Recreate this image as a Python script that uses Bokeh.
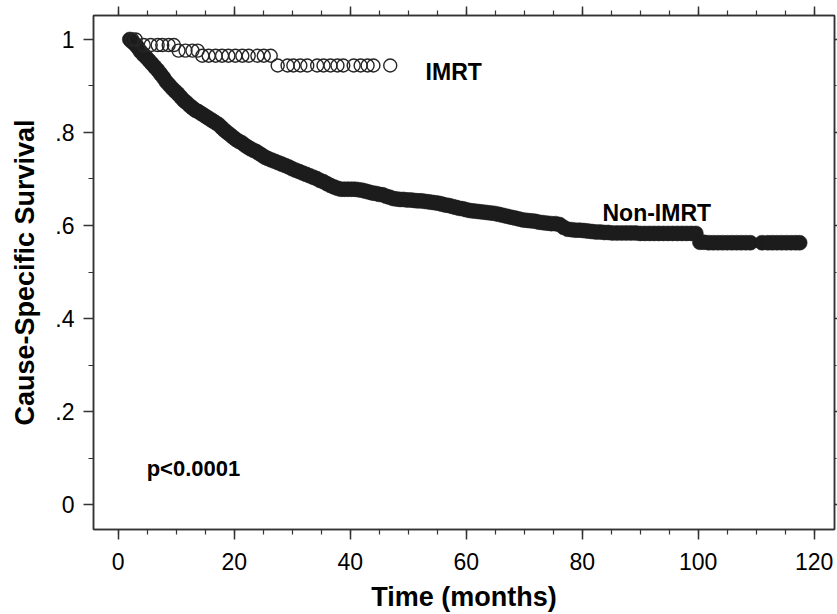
from bokeh.plotting import figure
from bokeh.models import LinearAxis, FixedTicker, Range1d, ColumnDataSource
from bokeh.core.properties import value
from bokeh.embed import file_html
from bokeh.resources import INLINE

# ---- data ----
imrt_time = [2.4, 3.0, 4.4, 5.6, 6.8, 7.6, 8.7, 9.6,
             10.4, 11.6, 12.8, 13.7,
             14.5, 15.6, 16.8, 17.9, 19.0, 20.2, 21.4, 22.5, 24.0, 25.1, 26.3,
             27.5, 29.2, 30.2, 31.4, 32.6, 34.3, 35.4, 36.6, 37.8, 38.8, 40.6,
             41.8, 43.0, 44.0, 46.9]
imrt_surv = [1.0, 1.0, 0.988, 0.988, 0.988, 0.988, 0.988, 0.988,
             0.976, 0.976, 0.976, 0.976,
             0.965, 0.965, 0.965, 0.965, 0.965, 0.965, 0.965, 0.965, 0.965, 0.965, 0.965,
             0.944, 0.944, 0.944, 0.944, 0.944, 0.944, 0.944, 0.944, 0.944, 0.944, 0.944,
             0.944, 0.944, 0.944, 0.944]

non_time = [2.0, 2.4, 2.9, 3.3, 3.8, 4.3, 4.8, 5.3, 5.8, 6.3, 6.8, 7.3, 7.8, 8.3, 8.8,
            9.3, 9.8, 10.3, 10.8, 11.3, 11.8, 12.3, 12.8, 13.3, 13.8, 14.3, 14.8, 15.3,
            15.8, 16.3, 16.8, 17.3, 17.8, 18.3, 18.8, 19.3, 19.8, 20.3, 20.8, 21.3, 21.8,
            22.3, 22.8, 23.3, 23.8, 24.3, 24.8, 25.3, 25.8, 26.4, 27.0, 27.6, 28.2, 28.8,
            29.4, 30.0, 30.6, 31.2, 31.8, 32.4, 33.0, 33.6, 34.2, 34.8, 35.4, 36.0, 36.6,
            37.2, 37.8, 38.4, 39.0, 39.6, 40.2, 40.8, 41.4, 42.0, 42.6, 43.2, 43.8, 44.4,
            45.0, 45.6, 46.2, 46.8, 47.4, 48.0, 48.6, 49.2, 49.8, 50.4, 51.0, 51.6, 52.2,
            52.8, 53.4, 54.0, 54.6, 55.2, 55.8, 56.4, 57.0, 57.6, 58.2, 58.8, 59.4, 60.0,
            60.7, 61.4, 62.1, 62.8, 63.5, 64.2, 64.9, 65.6, 66.3, 67.0, 67.7, 68.4, 69.1,
            69.8, 70.5, 71.2, 71.9, 72.6, 73.3, 74.0, 74.7, 75.4, 76.1, 76.8, 77.5, 78.2,
            78.9, 79.6, 80.3, 81.0, 81.7, 82.4, 83.1, 83.8, 84.5, 85.2, 86.0, 86.8, 87.6,
            88.4, 89.2, 90.0, 90.8, 91.6, 92.4, 93.2, 94.0, 94.8, 95.6, 96.4, 97.2, 98.0,
            98.8, 99.6, 100.3, 101.0, 101.8, 102.6, 103.4, 104.2, 105.0, 105.8, 106.6,
            107.4, 108.2, 109.0, 111.0, 112.0, 112.8, 113.6, 114.4, 115.2, 116.0, 116.8,
            117.5]
non_surv = [1.000, 0.995, 0.990, 0.984, 0.975, 0.968, 0.962, 0.955, 0.948, 0.941, 0.934,
            0.926, 0.918, 0.909, 0.902, 0.895, 0.889, 0.883, 0.876, 0.869, 0.864, 0.858,
            0.853, 0.848, 0.845, 0.841, 0.837, 0.833, 0.829, 0.825, 0.821, 0.817, 0.811,
            0.805, 0.800, 0.795, 0.790, 0.785, 0.781, 0.778, 0.773, 0.769, 0.765, 0.762,
            0.759, 0.755, 0.751, 0.747, 0.744, 0.741, 0.738, 0.735, 0.732, 0.729, 0.726,
            0.722, 0.719, 0.716, 0.713, 0.710, 0.707, 0.704, 0.701, 0.697, 0.694, 0.690,
            0.686, 0.683, 0.680, 0.678, 0.678, 0.678, 0.678, 0.678, 0.677, 0.676, 0.674,
            0.672, 0.670, 0.669, 0.667, 0.666, 0.663, 0.661, 0.658, 0.657, 0.656, 0.656,
            0.655, 0.655, 0.654, 0.653, 0.653, 0.652, 0.651, 0.650, 0.649, 0.648, 0.646,
            0.644, 0.643, 0.641, 0.639, 0.637, 0.636, 0.634, 0.632, 0.631, 0.630, 0.629,
            0.628, 0.627, 0.626, 0.624, 0.622, 0.620, 0.618, 0.616, 0.614, 0.612, 0.611,
            0.610, 0.609, 0.607, 0.606, 0.605, 0.604, 0.604, 0.602, 0.596, 0.592, 0.591,
            0.590, 0.590, 0.589, 0.588, 0.587, 0.586, 0.586, 0.585, 0.585, 0.584, 0.584,
            0.584, 0.584, 0.584, 0.584, 0.583, 0.583, 0.583, 0.583, 0.583, 0.583, 0.583,
            0.583, 0.583, 0.583, 0.583, 0.583, 0.583, 0.564, 0.564, 0.563, 0.563, 0.563,
            0.563, 0.563, 0.563, 0.563, 0.563, 0.563, 0.563, 0.563, 0.563, 0.563, 0.563,
            0.563, 0.563, 0.563, 0.563, 0.563]

x_ticks = [0, 20, 40, 60, 80, 100, 120]
y_ticks = [0, 0.2, 0.4, 0.6, 0.8, 1.0]
y_tick_labels = ["0", ".2", ".4", ".6", ".8", "1"]

FONT = "Liberation Sans"
AXCOL = "#333333"

p = figure(width=837, height=614, output_backend="svg", toolbar_location=None,
           x_range=Range1d(-4.26, 123.5), y_range=Range1d(-0.0536, 1.0515),
           x_axis_label="Time (months)", y_axis_label="Cause-Specific Survival",
           min_border_left=93, min_border_right=3, min_border_top=15, min_border_bottom=84)
p.grid.visible = False
p.background_fill_color = "white"
p.border_fill_color = "white"
p.outline_line_color = AXCOL
p.outline_line_width = 1.5

xt = FixedTicker(ticks=x_ticks, minor_ticks=list(range(0, 125, 5)))
yt = FixedTicker(ticks=y_ticks, minor_ticks=[i / 10 for i in range(0, 11)])

for ax in p.xaxis:
    ax.ticker = xt
for ax in p.yaxis:
    ax.ticker = yt
    ax.major_label_overrides = {t: l for t, l in zip(y_ticks, y_tick_labels)}

for ax in list(p.xaxis) + list(p.yaxis):
    ax.axis_line_color = AXCOL
    ax.axis_line_width = 1.5
    ax.major_tick_line_color = AXCOL
    ax.minor_tick_line_color = AXCOL
    ax.major_tick_line_width = 1.5
    ax.minor_tick_line_width = 1.2
    ax.major_tick_in = 0
    ax.major_tick_out = 10
    ax.minor_tick_in = 0
    ax.minor_tick_out = 5
    ax.major_label_text_font = FONT
    ax.major_label_text_font_size = "23px"
    ax.major_label_text_color = "black"
    ax.axis_label_text_font = FONT
    ax.axis_label_text_font_style = "bold"
    ax.axis_label_text_font_size = "27px"
    ax.axis_label_text_color = "black"

p.xaxis.major_label_standoff = 13
p.xaxis.axis_label_standoff = 9
p.yaxis.major_label_standoff = 9
p.yaxis.axis_label_standoff = 12

# mirrored top and right axes: ticks only, labels not drawn
common = dict(major_label_text_font_size="1px", major_label_text_color=None,
              major_label_standoff=0,
              axis_line_color=AXCOL, axis_line_width=1.5,
              major_tick_line_color=AXCOL, minor_tick_line_color=AXCOL,
              major_tick_line_width=1.5, minor_tick_line_width=1.2,
              major_tick_in=0, minor_tick_in=0)
top = LinearAxis(ticker=xt, major_tick_out=9, minor_tick_out=5, **common)
p.add_layout(top, "above")
right = LinearAxis(ticker=yt, major_tick_out=3, minor_tick_out=2, **common)
p.add_layout(right, "right")

src_non = ColumnDataSource(dict(x=non_time, y=non_surv))
src_imrt = ColumnDataSource(dict(x=imrt_time, y=imrt_surv))

p.scatter("x", "y", source=src_non, marker="circle", size=15,
          fill_color="#1c1c1c", line_color="#1c1c1c", line_width=0.5)
p.scatter("x", "y", source=src_imrt, marker="circle", size=13,
          fill_color=None, line_color="#262626", line_width=1.4)

p.text(x=[53.0], y=[0.929], text=["IMRT"], text_font=value(FONT), text_font_style="bold",
       text_font_size="23px", text_color="black", text_baseline="middle")
p.text(x=[83.5], y=[0.627], text=["Non-IMRT"], text_font=value(FONT), text_font_style="bold",
       text_font_size="23px", text_color="black", text_baseline="middle")
p.text(x=[4.9], y=[0.078], text=["p<0.0001"], text_font=value(FONT), text_font_style="bold",
       text_font_size="22px", text_color="black", text_baseline="middle")

open("out.html", "w").write(file_html(p, INLINE))
